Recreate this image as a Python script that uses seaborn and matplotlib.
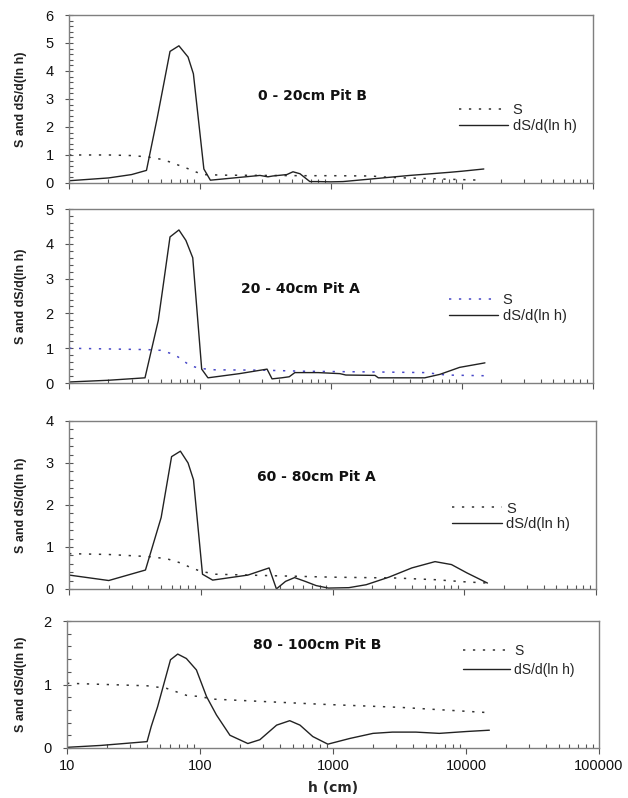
"""
Water retention S and its log-derivative for four soil layers.
"""
import matplotlib
matplotlib.use("Agg")
import matplotlib.pyplot as plt
import seaborn as sns
import numpy as np
from matplotlib.ticker import MultipleLocator, LogLocator, NullFormatter, FuncFormatter

# 0 - 20cm Pit B
h_s1 = [10, 20, 30, 40, 50, 59, 70, 80, 90, 105, 150, 300, 600, 1000, 2000, 2800, 6000, 10000, 14000]
s1 = [1.0, 1.0, 0.98, 0.93, 0.85, 0.75, 0.62, 0.52, 0.42, 0.3, 0.28, 0.27, 0.26, 0.26, 0.25, 0.2, 0.15, 0.12, 0.1]
h_d1 = [10, 20, 30, 39, 47, 59, 69, 81, 89, 107, 120, 287, 330, 360, 460, 513, 580, 690, 800, 1000, 1235,
        2000, 4000, 8000, 10000, 14700]
d1 = [0.08, 0.18, 0.3, 0.45, 2.3, 4.7, 4.9, 4.5, 3.9, 0.5, 0.1, 0.27, 0.22, 0.25, 0.3, 0.4, 0.33, 0.05, 0.05,
      0.04, 0.05, 0.14, 0.27, 0.38, 0.42, 0.5]

# 20 - 40cm Pit A
h_s2 = [10, 20, 40, 50, 60, 68, 84, 100, 130, 300, 600, 1000, 2000, 5300, 7600, 15000]
s2 = [1.0, 0.98, 0.96, 0.94, 0.85, 0.75, 0.5, 0.42, 0.38, 0.37, 0.34, 0.33, 0.32, 0.3, 0.23, 0.21]
h_d2 = [10, 20, 38, 48, 59, 69, 78, 88, 103, 115, 200, 325, 355, 420, 480, 530, 610, 800, 1170, 1300,
        2170, 2300, 5200, 6800, 9600, 15000]
d2 = [0.03, 0.08, 0.15, 1.8, 4.2, 4.4, 4.1, 3.6, 0.4, 0.15, 0.27, 0.4, 0.12, 0.15, 0.18, 0.3, 0.3, 0.3, 0.27,
      0.23, 0.22, 0.15, 0.15, 0.25, 0.45, 0.58]

# 60 - 80cm Pit A
h_s3 = [10, 20, 40, 55, 70, 85, 100, 130, 300, 1000, 3000, 6000, 10000, 15000]
s3 = [0.84, 0.82, 0.77, 0.72, 0.62, 0.5, 0.42, 0.35, 0.32, 0.28, 0.26, 0.22, 0.17, 0.14]
h_d3 = [10, 20, 38, 50, 60, 70, 80, 88, 103, 123, 228, 330, 375, 440, 515, 620, 750, 930, 1330, 1800,
        2680, 4000, 6000, 8000, 10500, 15000]
d3 = [0.33, 0.2, 0.45, 1.7, 3.15, 3.28, 3.0, 2.6, 0.35, 0.21, 0.33, 0.5, 0.0, 0.18, 0.27, 0.18, 0.08, 0.02,
      0.03, 0.1, 0.28, 0.5, 0.65, 0.58, 0.38, 0.14]

# 80 - 100cm Pit B
h_s4 = [10, 40, 56, 79, 100, 125, 316, 795, 3200, 14000]
s4 = [1.02, 0.98, 0.94, 0.83, 0.81, 0.77, 0.73, 0.69, 0.64, 0.56]
h_d4 = [10, 18, 40, 43, 48, 60, 68, 79, 94, 112, 133, 168, 229, 282, 377, 473, 565, 705, 915, 1340, 2000,
        2800, 4200, 6300, 10200, 15000]
d4 = [0.01, 0.04, 0.1, 0.34, 0.65, 1.39, 1.48, 1.41, 1.23, 0.81, 0.52, 0.2, 0.07, 0.13, 0.36, 0.43, 0.36,
      0.18, 0.06, 0.15, 0.23, 0.25, 0.25, 0.23, 0.26, 0.28]

titles = ['0 - 20cm Pit B', '20 - 40cm Pit A', '60 - 80cm Pit A', '80 - 100cm Pit B']
ymax = [6, 5, 4, 2]

sns.set_style('white')
plt.rcParams['font.family'] = ['Liberation Sans', 'DejaVu Sans']

fig = plt.figure(figsize=(6.28, 7.98), dpi=100)

# axes boxes [left, bottom, width, height] in figure fractions
boxes = [
    [0.110, 0.7707, 0.834, 0.2105],
    [0.110, 0.520, 0.834, 0.218],
    [0.110, 0.262, 0.839, 0.2105],
    [0.1067, 0.0627, 0.847, 0.159],
]
title_pos = [(0.464, 0.518), (0.441, 0.540), (0.47, 0.667), (0.47, 0.81)]
legend_pos = [(0.744, 0.475), (0.725, 0.515), (0.727, 0.52), (0.744, 0.82)]
ylabel_x = [-0.08, -0.08, -0.08, -0.075]

panels = [(h_s1, s1, h_d1, d1), (h_s2, s2, h_d2, d2), (h_s3, s3, h_d3, d3), (h_s4, s4, h_d4, d4)]
dotted = (0, (1.5, 5))

for i, (hs, s, hd, d) in enumerate(panels):
    ax = fig.add_axes(boxes[i])
    ax.set_xscale('log')
    s_color = '#4848c8' if i == 1 else '#333333'
    sns.lineplot(x=hs, y=s, ax=ax, color=s_color, linestyle=dotted, linewidth=1.1, label='S')
    sns.lineplot(x=hd, y=d, ax=ax, color='#222222', linewidth=1.0, label='dS/d(ln h)')

    ax.set_xlim(10, 100000)
    ax.set_ylim(0, ymax[i])
    ax.yaxis.set_major_locator(MultipleLocator(1))
    ax.yaxis.set_minor_locator(MultipleLocator(0.2))
    ax.xaxis.set_major_locator(LogLocator(base=10))
    ax.xaxis.set_minor_locator(LogLocator(base=10, subs=np.arange(2, 10)))
    ax.xaxis.set_minor_formatter(NullFormatter())
    ax.xaxis.set_major_formatter(FuncFormatter(lambda v, p: f'{v:g}'))

    ax.tick_params(axis='x', which='major', direction='out', length=4, width=0.8, color='#555555',
                   labelsize=10.5, pad=4, bottom=True, labelcolor='#111111')
    ax.tick_params(axis='x', which='minor', direction='in', length=3, width=0.8, color='#555555', bottom=True)
    ax.tick_params(axis='y', which='major', direction='inout', length=6, width=0.8, color='#555555',
                   labelsize=10.5, pad=8, left=True, labelcolor='#111111')
    ax.tick_params(axis='y', which='minor', direction='in', length=3, width=0.8, color='#555555', left=True)
    if i < 3:
        ax.tick_params(axis='x', labelbottom=False)
    else:
        ax.set_xlabel('h (cm)', fontsize=10, fontweight='bold', family='DejaVu Sans', labelpad=6)

    for sp in ax.spines.values():
        sp.set_color('#7f7f7f')
        sp.set_linewidth(1.0)

    ax.set_ylabel('S and dS/d(ln h)', fontsize=9, fontweight='bold', color='#222222')
    ax.yaxis.set_label_coords(ylabel_x[i], 0.5)

    ax.text(title_pos[i][0], title_pos[i][1], titles[i], transform=ax.transAxes, ha='center', va='center',
            fontsize=10, fontweight='bold', family='DejaVu Sans', color='#111111')

    handles, labels = ax.get_legend_handles_labels()
    ax.legend(handles, labels, loc='upper left', bbox_to_anchor=legend_pos[i], frameon=False,
              fontsize=10.5 if i < 3 else 10, handlelength=3.4, handletextpad=0.3,
              labelspacing=0.1 if i < 3 else 0.35, borderpad=0, borderaxespad=0)

fig.savefig('out.png', dpi=100)
